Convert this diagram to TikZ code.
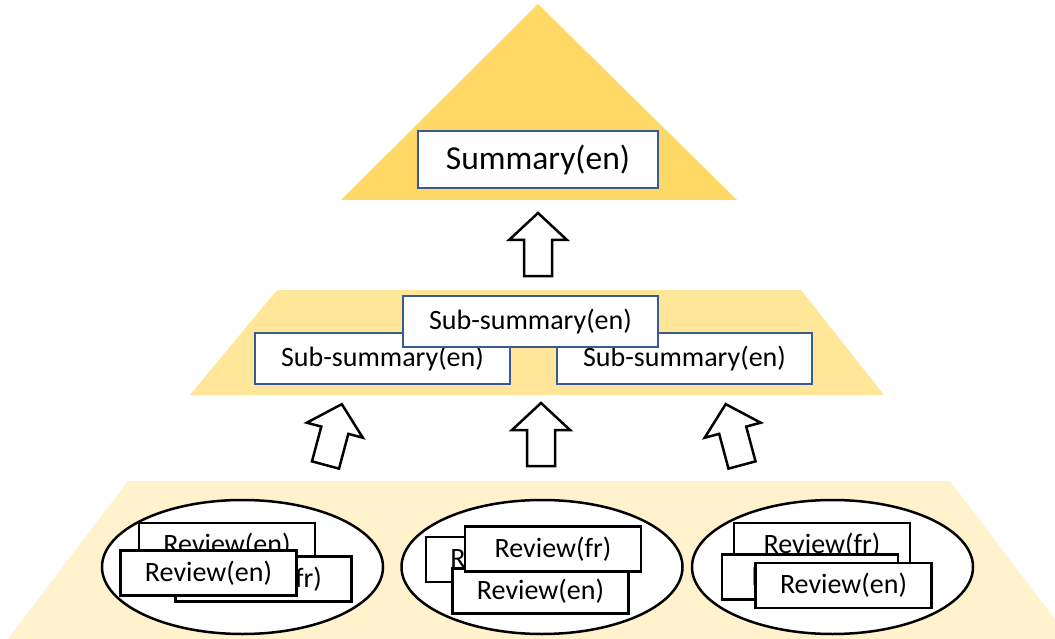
\documentclass[tikz,border=0pt]{standalone}
\usepackage{fontspec}
\setmainfont{Carlito}
\usetikzlibrary{shapes.geometric}
\definecolor{goldtop}{HTML}{FFD966}
\definecolor{goldmid}{HTML}{FFE699}
\definecolor{goldlow}{HTML}{FFF2CC}
\definecolor{boxblue}{HTML}{3B5A91}
\begin{document}
\begin{tikzpicture}[x=1pt,y=-1pt,
  sumbox/.style={draw=boxblue, line width=2pt, fill=white, inner sep=0pt,
    minimum width=240pt, minimum height=57pt, font=\fontsize{33.5}{36}\selectfont},
  subbox/.style={draw=boxblue, line width=2pt, fill=white, inner sep=0pt,
    minimum width=255pt, minimum height=51pt, font=\fontsize{28}{30}\selectfont},
  revbox/.style={draw=black, line width=2.5pt, fill=white, inner sep=0pt,
    minimum width=176pt, minimum height=45pt, font=\fontsize{28}{30}\selectfont},
  reviewgroup/.style={ellipse, draw=black, line width=2.5pt, fill=white, inner sep=0pt,
    minimum width=281pt, minimum height=134pt},
  uparrow/.pic={\draw[line width=2.5pt, fill=white, line join=miter]
    (-14,0) -- (-14,-36) -- (-29,-36) -- (0,-63) -- (29,-36) -- (14,-36) -- (14,0) -- cycle;}
]
\clip (0,0) rectangle (1055,639);

% pyramid layers
\fill[goldtop] (538,4) -- (737,200) -- (341,200) -- cycle;
\fill[goldmid] (277,290) -- (801,290) -- (884,395) -- (190,395) -- cycle;
\fill[goldlow] (128,481) -- (950,481) -- (1070,639) -- (8,639) -- cycle;

% top level
\node[sumbox] (summary) at (538,159.5) {Summary(en)};

% middle level
\node[subbox] (subL) at (382.5,358.5) {Sub-summary(en)};
\node[subbox] (subR) at (684.5,358.5) {Sub-summary(en)};
\node[subbox] (subC) at (530.5,321.5) {Sub-summary(en)};

% arrows between levels
\pic at (538,276) {uparrow};
\pic[rotate=-15] at (325.5,465) {uparrow};
\pic at (541,466) {uparrow};
\pic[rotate=15] at (742,465) {uparrow};

% review groups
\node[reviewgroup] (g1) at (242.5,567) {};
\node[reviewgroup] (g2) at (542,567) {};
\node[reviewgroup] (g3) at (832.5,567) {};

\node[revbox] (r1a) at (227,545.5) {Review(en)};
\node[revbox] (r1b) at (263.5,579) {Review(fr)};
\node[revbox] (r1c) at (208.5,573) {Review(en)};

\node[revbox] (r2a) at (514,559.5) {Review(en)};
\node[revbox] (r2b) at (540.5,591) {Review(en)};
\node[revbox] (r2c) at (553,549) {Review(fr)};

\node[revbox] (r3a) at (822,545.5) {Review(fr)};
\node[revbox] (r3b) at (810,577) {Review(fr)};
\node[revbox] (r3c) at (843.5,585.5) {Review(en)};
\end{tikzpicture}
\end{document}
